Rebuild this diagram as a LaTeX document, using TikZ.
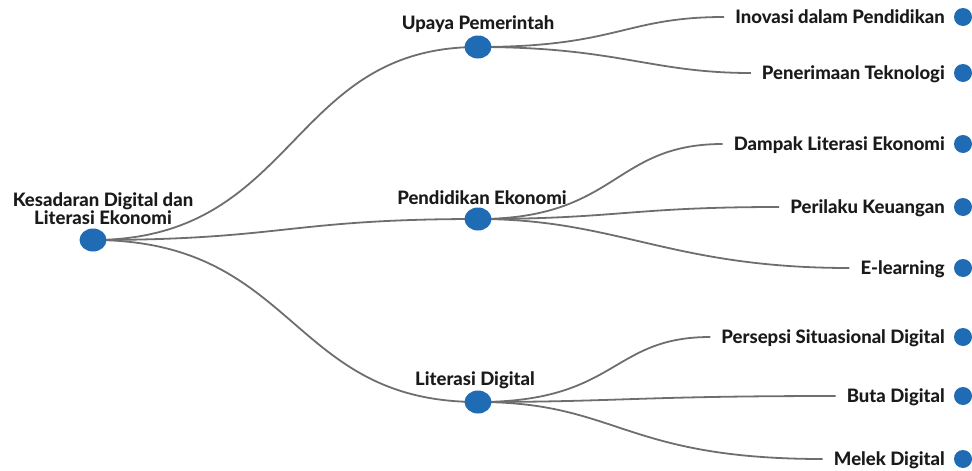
\documentclass[tikz,border=0pt]{standalone}
\usepackage{fontspec}
\setmainfont{Lato}[BoldFont={Lato Heavy}]
\usetikzlibrary{shapes.geometric,backgrounds}
\definecolor{dotblue}{HTML}{1F6BB4}
\definecolor{branchgray}{HTML}{6E6E6E}
\definecolor{ink}{HTML}{1A1A1A}
\begin{document}
\begin{tikzpicture}[x=1pt, y=-1pt, line join=round, line cap=round,
	bigdot/.style={ellipse, fill=dotblue, minimum width=27pt, minimum height=23pt, inner sep=0pt},
	smalldot/.style={circle, fill=dotblue, minimum size=18pt, inner sep=0pt},
	lbl/.style={text=ink, font=\fontsize{18.5}{18}\selectfont\bfseries, inner sep=0pt},
	leaf/.style={lbl, anchor=east, inner xsep=11pt, text height=13pt, text depth=0pt},
	branch/.style={draw=branchgray, line width=1.8pt}]
	\useasboundingbox (0,0) rectangle (972,471);
	% root and main branches
	\node[bigdot] (root) at (93,240) {};
	\node[lbl, align=center, anchor=south] (rootlbl) at (103,225) {Kesadaran Digital dan\\Literasi Ekonomi};
	\node[bigdot] (upaya) at (478,47) {};
	\node[lbl, anchor=base] (upayalbl) at (478,29) {Upaya Pemerintah};
	\node[bigdot] (pendidikan) at (478,219) {};
	\node[lbl, anchor=base] (pendidikanlbl) at (482,204) {Pendidikan Ekonomi};
	\node[bigdot] (literasi) at (478,402) {};
	\node[lbl, anchor=base] (literasilbl) at (475,385) {Literasi Digital};
	% leaves
	\foreach \name/\y/\txt in {inovasi/17/Inovasi dalam Pendidikan, penerimaan/73/Penerimaan Teknologi,
		dampak/144/Dampak Literasi Ekonomi, perilaku/207/Perilaku Keuangan, elearning/268/E-learning,
		persepsi/337/Persepsi Situasional Digital, buta/396/Buta Digital, melek/459/Melek Digital}
	{\node[smalldot] (d\name) at (963,\y) {};
	 \node[leaf] (\name) at (956,\y) {\txt};}
	\begin{scope}[on background layer]
		\foreach \to/\a/\b in {upaya/205/190, pendidikan/190/190, literasi/205/190}
		{\draw[branch] (root.center) .. controls +(\a,0) and +(-\b,0) .. (\to.center);}
		\foreach \from/\to/\a/\b in {upaya/inovasi/140/100, upaya/penerimaan/140/100,
			pendidikan/dampak/140/110, pendidikan/perilaku/140/150, pendidikan/elearning/140/180,
			literasi/persepsi/140/100, literasi/buta/140/200, literasi/melek/140/200}
		{\draw[branch] (\from.center) .. controls +(\a,0) and +(-\b,0) .. (\to.west);}
	\end{scope}
\end{tikzpicture}
\end{document}
